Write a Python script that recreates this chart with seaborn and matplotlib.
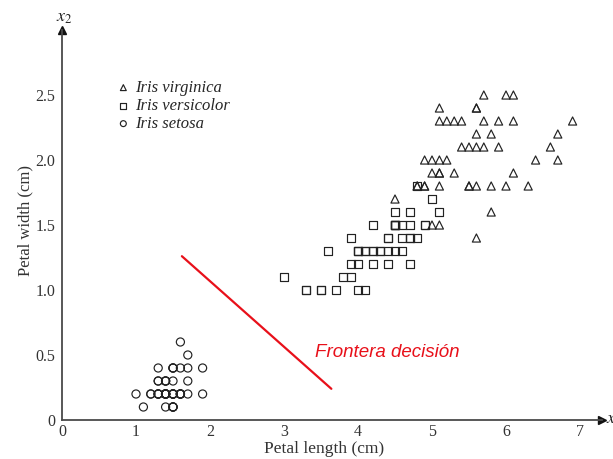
import numpy as np
import pandas as pd
import matplotlib
matplotlib.use("Agg")
import matplotlib.pyplot as plt
import seaborn as sns
from matplotlib.font_manager import FontProperties

# ---- data (petal length, petal width in cm) ----
setosa_len = [1.4, 1.4, 1.3, 1.5, 1.4, 1.7, 1.4, 1.5, 1.4, 1.5, 1.5, 1.6, 1.4, 1.1, 1.2, 1.5, 1.3, 1.4, 1.7, 1.5,
              1.7, 1.5, 1.0, 1.7, 1.9, 1.6, 1.6, 1.5, 1.4, 1.6, 1.6, 1.5, 1.5, 1.4, 1.5, 1.2, 1.3, 1.5, 1.3, 1.5,
              1.3, 1.3, 1.3, 1.6, 1.9, 1.4, 1.6, 1.4, 1.5, 1.4]
setosa_wid = [0.2, 0.2, 0.2, 0.2, 0.2, 0.4, 0.3, 0.2, 0.2, 0.1, 0.2, 0.2, 0.1, 0.1, 0.2, 0.4, 0.4, 0.3, 0.3, 0.3,
              0.2, 0.4, 0.2, 0.5, 0.2, 0.2, 0.4, 0.2, 0.2, 0.2, 0.2, 0.4, 0.1, 0.2, 0.1, 0.2, 0.2, 0.1, 0.2, 0.2,
              0.3, 0.3, 0.2, 0.6, 0.4, 0.3, 0.2, 0.2, 0.2, 0.2]
versicolor_len = [4.7, 4.5, 4.9, 4.0, 4.6, 4.5, 4.7, 3.3, 4.6, 3.9, 3.5, 4.2, 4.0, 4.7, 3.6, 4.4, 4.5, 4.1, 4.5, 3.9,
                  4.8, 4.0, 4.9, 4.7, 4.3, 4.4, 4.8, 5.0, 4.5, 3.5, 3.8, 3.7, 3.9, 5.1, 4.5, 4.5, 4.7, 4.4, 4.1, 4.0,
                  4.4, 4.6, 4.0, 3.3, 4.2, 4.2, 4.2, 4.3, 3.0, 4.1]
versicolor_wid = [1.4, 1.5, 1.5, 1.3, 1.5, 1.3, 1.6, 1.0, 1.3, 1.4, 1.0, 1.5, 1.0, 1.4, 1.3, 1.4, 1.5, 1.0, 1.5, 1.1,
                  1.8, 1.3, 1.5, 1.2, 1.3, 1.4, 1.4, 1.7, 1.5, 1.0, 1.1, 1.0, 1.2, 1.6, 1.5, 1.6, 1.5, 1.3, 1.3, 1.3,
                  1.2, 1.4, 1.2, 1.0, 1.3, 1.2, 1.3, 1.3, 1.1, 1.3]
virginica_len = [6.0, 5.1, 5.9, 5.6, 5.8, 6.6, 4.5, 6.3, 5.8, 6.1, 5.1, 5.3, 5.5, 5.0, 5.1, 5.3, 5.5, 6.7, 6.9, 5.0,
                 5.7, 4.9, 6.7, 4.9, 5.7, 6.0, 4.8, 4.9, 5.6, 5.8, 6.1, 6.4, 5.6, 5.1, 5.6, 6.1, 5.6, 5.5, 4.8, 5.4,
                 5.6, 5.1, 5.1, 5.9, 5.7, 5.2, 5.0, 5.2, 5.4, 5.1]
virginica_wid = [2.5, 1.9, 2.1, 1.8, 2.2, 2.1, 1.7, 1.8, 1.8, 2.5, 2.0, 1.9, 2.1, 2.0, 2.4, 2.3, 1.8, 2.2, 2.3, 1.5,
                 2.3, 2.0, 2.0, 1.8, 2.1, 1.8, 1.8, 1.8, 2.1, 1.6, 1.9, 2.0, 2.2, 1.5, 1.4, 2.3, 2.4, 1.8, 1.8, 2.1,
                 2.4, 2.3, 1.9, 2.3, 2.5, 2.3, 1.9, 2.0, 2.3, 1.8]

boundary_x = [1.62, 3.64]
boundary_y = [1.26, 0.24]

x_ticks = [0, 1, 2, 3, 4, 5, 6, 7]
x_ticklabels = ["0", "1", "2", "3", "4", "5", "6", "7"]
y_ticks = [0, 0.5, 1.0, 1.5, 2.0, 2.5]
y_ticklabels = ["0", "0.5", "1.0", "1.5", "2.0", "2.5"]

# ---- style ----
sns.set_style("white")
plt.rcParams["font.family"] = ["Liberation Serif", "DejaVu Serif"]
plt.rcParams["mathtext.fontset"] = "stix"

fig = plt.figure(figsize=(6.13, 4.59), dpi=100)
ax = fig.add_axes([62 / 613, 39 / 459, 540 / 613, 390 / 459])

axis_col = "#4a4a4a"
mk = dict(s=34, facecolors="none", edgecolors="#222222", linewidths=0.85)
sns.scatterplot(x=virginica_len, y=virginica_wid, marker="^", ax=ax, label="Iris virginica", **mk)
sns.scatterplot(x=versicolor_len, y=versicolor_wid, marker="s", ax=ax, label="Iris versicolor", **mk)
sns.scatterplot(x=setosa_len, y=setosa_wid, marker="o", ax=ax, label="Iris setosa", **mk)

sns.lineplot(x=boundary_x, y=boundary_y, color="#e8101a", linewidth=1.6, ax=ax, legend=False)
ax.text(3.42, 0.52, "Frontera decisión", color="#e8101a", fontsize=13.5,
        family=["Liberation Sans", "DejaVu Sans"], style="italic", va="center", ha="left")

ax.set_xlim(0, 540 / 74)
ax.set_ylim(0, 3.0)
ax.set_xticks(x_ticks)
ax.set_xticklabels(x_ticklabels)
ax.set_yticks(y_ticks)
ax.set_yticklabels(y_ticklabels)
ax.tick_params(direction="in", length=6, width=1.1, color=axis_col, labelsize=11.5,
               labelcolor="#333333", pad=5)
ax.tick_params(axis="x", pad=3)

for side in ["top", "right"]:
    ax.spines[side].set_visible(False)
for side in ["left", "bottom"]:
    ax.spines[side].set_color(axis_col)
    ax.spines[side].set_linewidth(1.3)

# axis arrows
ax.plot(1, 0, marker=">", color="#111111", markersize=6, transform=ax.transAxes, clip_on=False)
ax.plot(0, 1, marker="^", color="#111111", markersize=6, transform=ax.transAxes, clip_on=False)
fig.text(606 / 613, 1 - 420 / 459, r"$x_1$", fontsize=13, color="#222222", ha="left", va="center")
fig.text(64 / 613, 1 - 17 / 459, r"$x_2$", fontsize=13, color="#222222", ha="center", va="center")

ax.set_xlabel("Petal length (cm)", fontsize=12.5, color="#333333")
ax.set_ylabel("Petal width (cm)", fontsize=12, color="#333333")
ax.xaxis.set_label_coords((324 - 62) / 540, (420 - 441) / 390)
ax.yaxis.set_label_coords((33 - 62) / 540, (420 - 221) / 390)

leg = ax.legend(loc="upper left", bbox_to_anchor=((115 - 62) / 540, (420 - 80) / 390),
                frameon=False, handlelength=1.0, handletextpad=0.2, labelspacing=0.12,
                borderpad=0, borderaxespad=0,
                prop=FontProperties(family="Liberation Serif", style="italic", size=12))
for h in leg.legend_handles:
    h.set_sizes([18])

fig.savefig("out.png", dpi=100)
